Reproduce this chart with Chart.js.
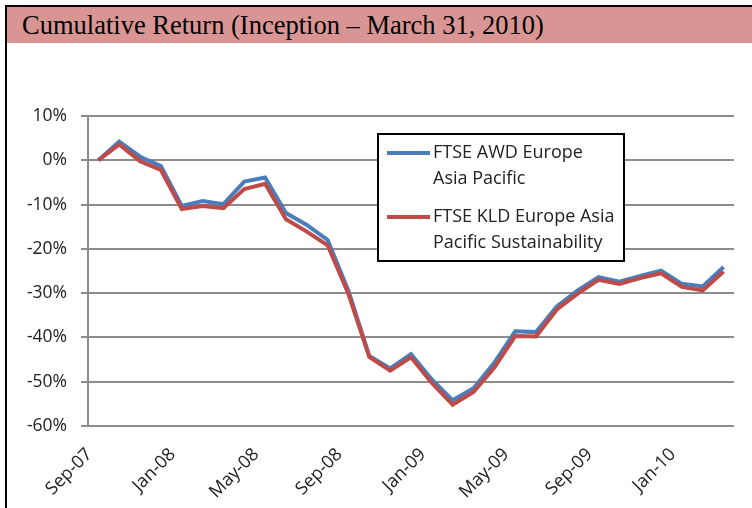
<!DOCTYPE html>
<html>
<head>
<meta charset="utf-8">
<script src="https://cdn.jsdelivr.net/npm/chart.js@4"></script>
<style>
  html, body { margin: 0; padding: 0; background: #fff; }
  body { width: 752px; height: 508px; position: relative; overflow: hidden; }
  #frame { position: absolute; left: 5px; top: 5px; right: 0; bottom: 0;
           border-left: 2px solid #000; border-top: 2px solid #000; }
  #title { position: absolute; left: 7px; top: 7px; right: 0; height: 36px;
           background: #d99594; font-family: "Liberation Serif", "Times New Roman", serif;
           font-size: 26.5px; line-height: 37px; padding-left: 15px; color: #000; }
  #wrap { position: absolute; left: 0; top: 44px; width: 752px; height: 464px; }
</style>
</head>
<body>
<div id="frame"></div>
<div id="title">Cumulative Return (Inception &ndash; March 31, 2010)</div>
<div id="wrap"><canvas id="chart"></canvas></div>
<script>
  "use strict";

  // monthly points, Sep-07 .. Mar-10
  var months = ["Sep-07", "Oct-07", "Nov-07", "Dec-07", "Jan-08", "Feb-08", "Mar-08", "Apr-08",
    "May-08", "Jun-08", "Jul-08", "Aug-08", "Sep-08", "Oct-08", "Nov-08", "Dec-08",
    "Jan-09", "Feb-09", "Mar-09", "Apr-09", "May-09", "Jun-09", "Jul-09", "Aug-09",
    "Sep-09", "Oct-09", "Nov-09", "Dec-09", "Jan-10", "Feb-10", "Mar-10"];

  var awdName = ["FTSE AWD Europe", "Asia Pacific"];
  var awdValues = [0, 4.2, 0.8, -1.3, -10.3, -9.2, -9.9, -4.8, -3.9, -11.9, -14.6, -18.0,
    -29.5, -44.2, -47.0, -43.8, -49.5, -54.2, -51.5, -45.7, -38.6, -38.8, -33.0, -29.4,
    -26.4, -27.4, -26.1, -24.9, -27.9, -28.5, -24.1];

  var kldName = ["FTSE KLD Europe Asia", "Pacific Sustainability"];
  var kldValues = [0, 3.6, -0.2, -2.2, -11.0, -10.3, -10.8, -6.5, -5.3, -13.3, -16.1, -19.2,
    -30.2, -44.4, -47.5, -44.5, -50.3, -55.2, -52.3, -46.8, -39.7, -39.8, -33.7, -30.1,
    -27.0, -27.9, -26.6, -25.5, -28.6, -29.4, -25.1];

  var labelEvery = 4;
  var font = "'Open Sans', 'Liberation Sans', sans-serif";

  // boxed legend with two-line entries, like the spreadsheet one
  var boxLegend = {
    id: 'boxLegend',
    afterDraw: function (chart) {
      var c = chart.ctx;
      var left = 378, top = 90, w = 246, h = 127;
      c.save();
      c.fillStyle = '#fff';
      c.fillRect(left, top, w, h);
      c.strokeStyle = '#000';
      c.lineWidth = 2;
      c.strokeRect(left, top, w, h);
      c.font = "18px " + font;
      c.textBaseline = 'middle';
      c.fillStyle = '#222';
      var rows = [19, 83];
      chart.data.datasets.forEach(function (ds, i) {
        var y = top + rows[i];
        c.strokeStyle = ds.borderColor;
        c.lineWidth = 4;
        c.beginPath();
        c.moveTo(left + 9, y);
        c.lineTo(left + 52, y);
        c.stroke();
        ds.nameLines.forEach(function (t, j) {
          c.fillText(t, left + 55, y + j * 25.5);
        });
      });
      c.restore();
    }
  };

  var ctx = document.getElementById("chart").getContext('2d');

  var myChart = new Chart(ctx, {
    type: 'line',
    data: {
      labels: months,
      datasets: [{
        label: awdName.join(' '),
        nameLines: awdName,
        data: awdValues,
        borderColor: '#4a7ebb',
        borderWidth: 4,
        pointRadius: 0,
        tension: 0,
        order: 2
      }, {
        label: kldName.join(' '),
        nameLines: kldName,
        data: kldValues,
        borderColor: '#be4b48',
        borderWidth: 4,
        pointRadius: 0,
        tension: 0,
        order: 1
      }]
    },
    options: {
      responsive: true,
      maintainAspectRatio: false,
      animation: false,
      layout: { padding: { left: 0, right: 18, top: 72, bottom: 0 } },
      plugins: {
        legend: { display: false },
        tooltip: { enabled: false }
      },
      scales: {
        x: {
          offset: true,
          grid: { display: false },
          border: { display: false },
          afterFit: function (s) { s.height = 82; },
          ticks: {
            autoSkip: false,
            minRotation: 45,
            maxRotation: 45,
            padding: 10,
            labelOffset: -9,
            color: '#222',
            font: { family: font, size: 18 },
            callback: function (v, i) { return i % labelEvery === 0 ? months[i] : ''; }
          }
        },
        y: {
          min: -60,
          max: 10,
          afterFit: function (s) { s.width = 88; },
          grid: { color: '#8c8c8c', lineWidth: 2, tickLength: 7 },
          border: { color: '#8c8c8c', width: 2 },
          ticks: {
            stepSize: 10,
            padding: 14,
            color: '#222',
            font: { family: font, size: 17.5 },
            callback: function (v) { return v + '%'; }
          }
        }
      }
    },
    plugins: [boxLegend]
  });
</script>
</body>
</html>
